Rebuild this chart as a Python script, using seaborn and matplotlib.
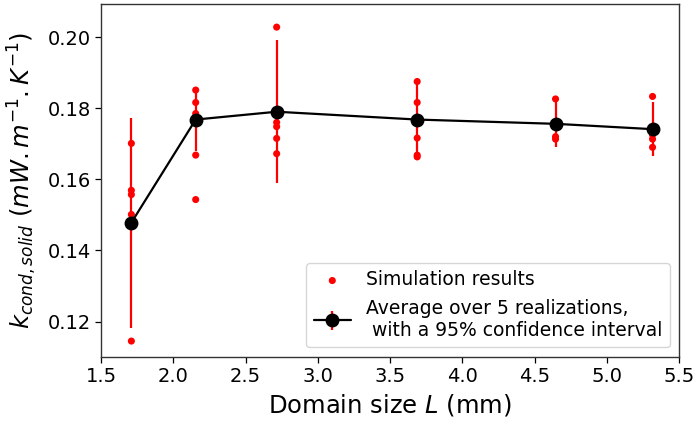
import numpy as np
import pandas as pd
import matplotlib
matplotlib.use("Agg")
import matplotlib.pyplot as plt
import seaborn as sns

# Domain sizes (mm)
domain_sizes = [1.71, 2.155, 2.715, 3.687, 4.644, 5.315]

# Solid conductivity from each realization, per domain size
realizations = [
    [0.1701, 0.1569, 0.1557, 0.1501, 0.1145],
    [0.1851, 0.1816, 0.1785, 0.1668, 0.1543],
    [0.2028, 0.1760, 0.1748, 0.1715, 0.1672],
    [0.1875, 0.1816, 0.1716, 0.1668, 0.1663],
    [0.1826, 0.1760, 0.1752, 0.1720, 0.1713],
    [0.1833, 0.1745, 0.1725, 0.1713, 0.1690],
]

# Average and 95% confidence half-width per domain size
averages = [0.1478, 0.1768, 0.1790, 0.1768, 0.1756, 0.1741]
ci_half = [0.0295, 0.0088, 0.0201, 0.0104, 0.0066, 0.0076]

rows = []
for L, vals in zip(domain_sizes, realizations):
    for v in vals:
        rows.append({"L": L, "k": v})
df = pd.DataFrame(rows)

sns.set_style("white")
plt.rcParams["font.family"] = ["DejaVu Sans"]
plt.rcParams["mathtext.fontset"] = "dejavusans"
plt.rcParams["text.color"] = "black"
plt.rcParams["axes.labelcolor"] = "black"
plt.rcParams["xtick.color"] = "black"
plt.rcParams["ytick.color"] = "black"

fig = plt.figure(figsize=(6.98, 4.21), dpi=100)
ax = fig.add_axes([0.1447, 0.1527, 0.8285, 0.8378])

sns.scatterplot(data=df, x="L", y="k", ax=ax, color="red", s=26,
                edgecolor="none", linewidth=0, zorder=3,
                label="Simulation results")

ax.errorbar(domain_sizes, averages, yerr=ci_half, color="black", lw=1.6,
            marker="o", markersize=9, ecolor="red", elinewidth=1.6,
            capsize=0, zorder=4,
            label="Average over 5 realizations,\n with a 95% confidence interval")

ax.set_xlim(1.5, 5.5)
ax.set_ylim(0.1101, 0.2093)
xt = np.arange(1.5, 5.51, 0.5)
yt = [0.12, 0.14, 0.16, 0.18, 0.20]
ax.set_xticks(xt)
ax.set_yticks(yt)
ax.set_xticklabels([f"{t:.1f}" for t in xt])
ax.set_yticklabels([f"{t:.2f}" for t in yt])
ax.tick_params(axis="both", labelsize=14, direction="out", length=4,
               width=0.9, colors="black", bottom=True, left=True)
for sp in ax.spines.values():
    sp.set_color("#333333")
    sp.set_linewidth(1.0)

ax.set_xlabel("Domain size $L$ (mm)", fontsize=17.5, labelpad=4,
              color="black")
ax.set_ylabel(r"$k_{cond,solid}\ (mW.m^{-1}.K^{-1})$", fontsize=17.5,
              labelpad=6, color="black")

leg = ax.legend(loc="lower right", fontsize=13.5, frameon=True,
                borderaxespad=0.5, handlelength=2.0)
leg.get_frame().set_edgecolor("#cccccc")
for t in leg.get_texts():
    t.set_color("black")

fig.savefig("out.png", dpi=100)
